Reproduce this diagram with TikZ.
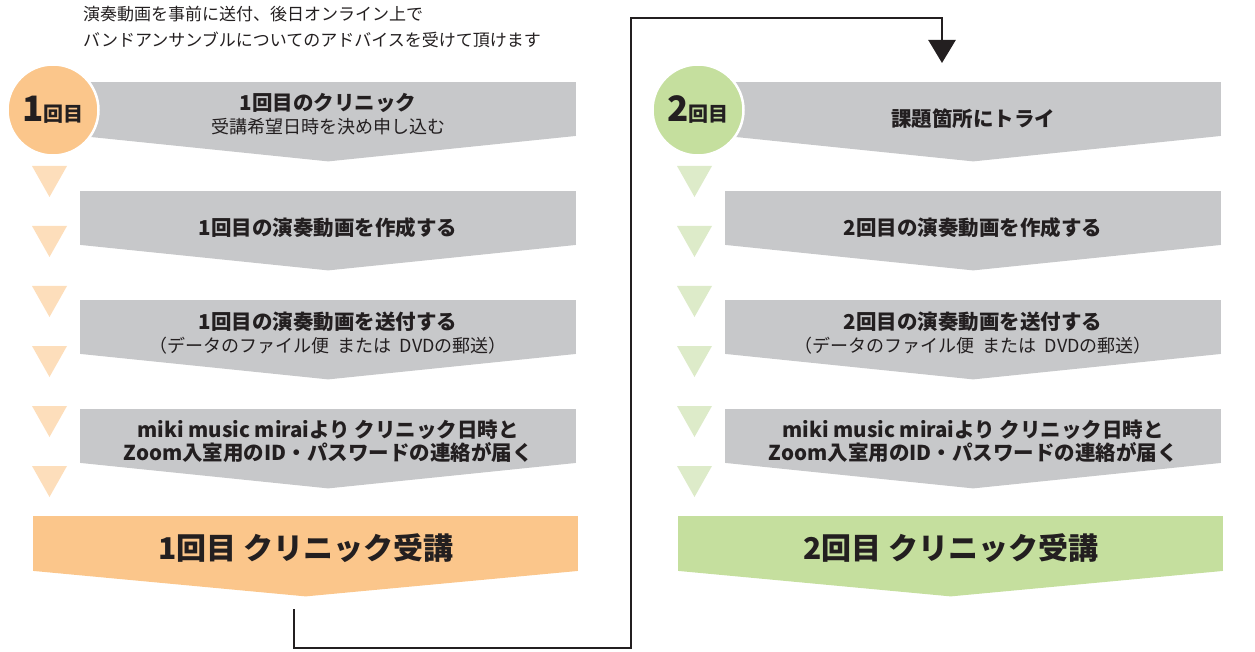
\documentclass[tikz,border=0pt]{standalone}
\usepackage{fontspec}
\setmainfont{Noto Sans CJK JP}
\usetikzlibrary{positioning, calc, arrows.meta}

\definecolor{boxgray}{HTML}{C7C8CA}
\definecolor{orangedeep}{HTML}{FBC68B}
\definecolor{orangelite}{HTML}{FDDEBB}
\definecolor{greendeep}{HTML}{C5DF9E}
\definecolor{greenlite}{HTML}{DDEBC9}
\definecolor{inkdark}{HTML}{231F20}

\tikzset{
    stepbox/.style={fill=boxgray, minimum width=496pt, minimum height=54pt, inner sep=0pt, anchor=north west},
    bigbox/.style={minimum width=545pt, minimum height=55pt, inner sep=0pt, anchor=north west},
    steptext/.style={align=center, text=inkdark, inner sep=0pt, font=\fontsize{20.5}{23}\selectfont\bfseries},
    bigtext/.style={text=inkdark, inner sep=0pt, font=\fontsize{30}{30}\selectfont\bfseries},
    roundmark/.style={circle, draw=white, line width=2.5pt, minimum size=91pt, inner sep=0pt, text=inkdark},
    loopline/.style={line width=2.5pt, draw=inkdark, -{Triangle[width=27pt,length=23pt]}}
}

\newcommand{\roundno}[1]{{\fontsize{35}{35}\selectfont\bfseries #1}{\fontsize{20}{20}\selectfont\bfseries 回目}}
\newcommand{\subline}{\fontsize{18}{23}\selectfont\mdseries}

\begin{document}
\begin{tikzpicture}[x=1pt, y=-1pt]
    \useasboundingbox (0,0) rectangle (1255,652);

    \node[align=left, anchor=north west, inner sep=0pt, text=inkdark,
          font=\fontsize{17}{26}\selectfont] (intro) at (83,5.5)
        {演奏動画を事前に送付、後日オンライン上で\\バンドアンサンブルについてのアドバイスを受けて頂けます};

    % first round
    \node[stepbox] (a1) at (80,82) {};
    \node[stepbox] (a2) at (80,191) {};
    \node[stepbox] (a3) at (80,300) {};
    \node[stepbox] (a4) at (80,409) {};
    \node[bigbox, fill=orangedeep] (o1) at (33,516) {};

    % second round
    \node[stepbox] (b1) at (725,82) {};
    \node[stepbox] (b2) at (725,191) {};
    \node[stepbox] (b3) at (725,300) {};
    \node[stepbox] (b4) at (725,409) {};
    \node[bigbox, fill=greendeep] (g1) at (678,516) {};

    \foreach \b in {a1,a2,a3,a4,b1,b2,b3,b4}
        \fill[boxgray] ($(\b.south west)+(0,-0.5)$) -- ($(\b.south east)+(0,-0.5)$)
            -- ($(\b.south)+(0,25)$) -- cycle;
    \fill[orangedeep] ($(o1.south west)+(0,-0.5)$) -- ($(o1.south east)+(0,-0.5)$)
        -- ($(o1.south)+(0,25)$) -- cycle;
    \fill[greendeep] ($(g1.south west)+(0,-0.5)$) -- ($(g1.south east)+(0,-0.5)$)
        -- ($(g1.south)+(0,25)$) -- cycle;

    \foreach \k in {0,...,5} {
        \fill[orangelite] (32,{166+60*\k}) -- (67,{166+60*\k}) -- (49.5,{197+60*\k}) -- cycle;
        \fill[greenlite] (677,{166+60*\k}) -- (712,{166+60*\k}) -- (694.5,{197+60*\k}) -- cycle;
    }

    \node[roundmark, fill=orangedeep] (r1) at (53,110) {\roundno{1}};
    \node[roundmark, fill=greendeep] (r2) at (698,110) {\roundno{2}};

    \node[steptext] (a1t) at ($(a1.north)+(0,32)$) {1回目のクリニック\\\subline 受講希望日時を決め申し込む};
    \node[steptext] (a2t) at ($(a2.north)+(0,37)$) {1回目の演奏動画を作成する};
    \node[steptext] (a3t) at ($(a3.north)+(0,33)$) {1回目の演奏動画を送付する\\\subline （データのファイル便\ \ または\ \ DVDの郵送）};
    \node[steptext] (a4t) at ($(a4.north)+(0,32)$) {miki music miraiより クリニック日時と\\Zoom入室用のID・パスワードの連絡が届く};
    \node[bigtext] (o1t) at ($(o1.north)+(0,32)$) {1回目 クリニック受講};

    \node[steptext] (b1t) at ($(b1.north)+(0,37)$) {課題箇所にトライ};
    \node[steptext] (b2t) at ($(b2.north)+(0,37)$) {2回目の演奏動画を作成する};
    \node[steptext] (b3t) at ($(b3.north)+(0,33)$) {2回目の演奏動画を送付する\\\subline （データのファイル便\ \ または\ \ DVDの郵送）};
    \node[steptext] (b4t) at ($(b4.north)+(0,32)$) {miki music miraiより クリニック日時と\\Zoom入室用のID・パスワードの連絡が届く};
    \node[bigtext] (g1t) at ($(g1.north)+(0,32)$) {2回目 クリニック受講};

    % loop from first to second round
    \coordinate (lstart) at ($(o1.south)+(-11.5,38)$);
    \coordinate (lend) at (942,63);
    \draw[loopline] (lstart) |- (631,648) -- (631,18) -| (lend);
\end{tikzpicture}
\end{document}
